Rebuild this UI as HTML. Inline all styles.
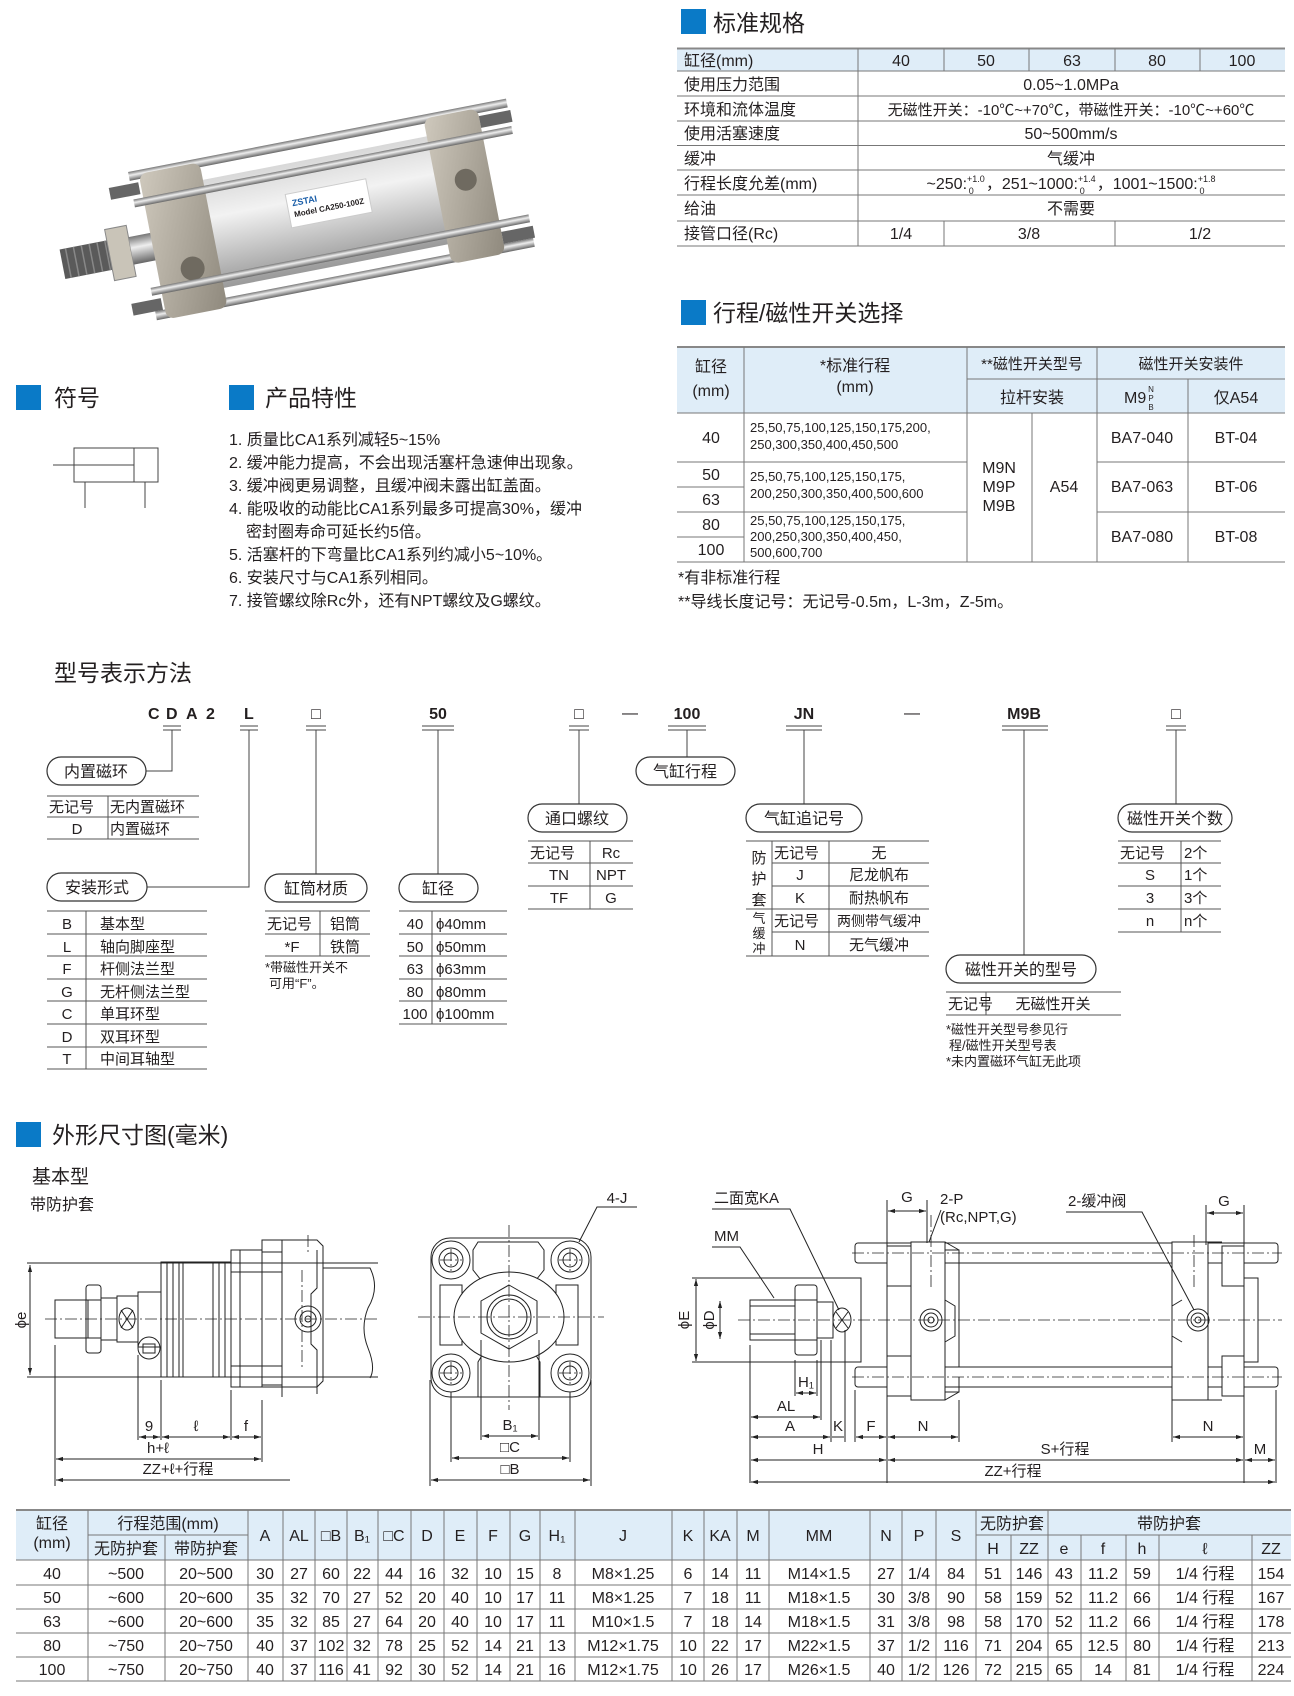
<!DOCTYPE html>
<html><head><meta charset="utf-8"><style>
html,body{margin:0;padding:0;background:#fff}
svg{display:block}
text{font-family:"Liberation Sans","Noto Sans CJK SC",sans-serif;fill:#231f20}
.t15{font-size:15px}.t16{font-size:16px}.t13{font-size:13px}.t12{font-size:12px}.t14{font-size:14px}
.h{font-size:23px}
.ln{stroke:#555;stroke-width:1;fill:none}
.tl{stroke:#777;stroke-width:1}
.d{stroke:#222;stroke-width:1;fill:none}
.c{stroke:#222;stroke-width:.8;stroke-dasharray:12 3 2 3;fill:none}
.pill{fill:#fff;stroke:#333;stroke-width:1.2}
.m{text-anchor:middle}
</style></head><body>
<svg width="1294" height="1696" viewBox="0 0 1294 1696" xmlns="http://www.w3.org/2000/svg">
<defs>
<marker id="a" viewBox="0 0 10 10" refX="10" refY="5" markerWidth="7" markerHeight="7" orient="auto-start-reverse"><path d="M0,2 L10,5 L0,8z" fill="#222"/></marker>
<linearGradient id="tube" x1="0" y1="0" x2="0" y2="1"><stop offset="0" stop-color="#d8d8d8"/><stop offset=".35" stop-color="#f2f2f2"/><stop offset="1" stop-color="#9a9a9a"/></linearGradient>
<linearGradient id="rod" x1="0" y1="0" x2="0" y2="1"><stop offset="0" stop-color="#777"/><stop offset=".4" stop-color="#eee"/><stop offset="1" stop-color="#666"/></linearGradient>
<linearGradient id="cap" x1="0" y1="0" x2="1" y2="1"><stop offset="0" stop-color="#cfc9bd"/><stop offset="1" stop-color="#8f897d"/></linearGradient>
</defs>

<!-- PHOTO -->
<g transform="translate(0 14) rotate(-11 290 205)">
<rect x="140" y="128" width="385" height="9" fill="url(#rod)"/>
<rect x="140" y="270" width="385" height="9" fill="url(#rod)"/>
<rect x="58" y="191" width="60" height="30" fill="#5a5a5a"/>
<g stroke="#888" stroke-width="1.5"><line x1="64" y1="191" x2="64" y2="221"/><line x1="72" y1="191" x2="72" y2="221"/><line x1="80" y1="191" x2="80" y2="221"/><line x1="88" y1="191" x2="88" y2="221"/><line x1="96" y1="191" x2="96" y2="221"/><line x1="104" y1="191" x2="104" y2="221"/></g>
<rect x="106" y="180" width="22" height="52" fill="#c9c4b8" stroke="#888"/>
<rect x="128" y="192" width="28" height="28" fill="url(#rod)"/>
<rect x="210" y="150" width="235" height="110" fill="url(#tube)"/>
<rect x="150" y="132" width="62" height="148" rx="8" fill="url(#cap)"/>
<rect x="440" y="132" width="55" height="148" rx="8" fill="url(#cap)"/>
<circle cx="185" cy="235" r="12" fill="#6f6a60"/><circle cx="470" cy="200" r="11" fill="#6f6a60"/>
<rect x="140" y="156" width="385" height="8" fill="url(#rod)"/>
<rect x="140" y="246" width="385" height="8" fill="url(#rod)"/>
<rect x="118" y="140" width="30" height="12" fill="#666"/><rect x="118" y="258" width="30" height="12" fill="#666"/>
<rect x="495" y="140" width="32" height="12" fill="#666"/><rect x="495" y="258" width="32" height="12" fill="#666"/>
<rect x="290" y="180" width="82" height="34" fill="#fff" stroke="#ccc"/>
<text x="295" y="193" style="font-size:9px;font-weight:bold;fill:#1a5ea8">ZSTAI</text>
<text x="295" y="204" style="font-size:8px;font-weight:bold">Model CA250-100Z</text>
</g>

<!-- SECTION 1 -->
<rect x="681" y="9" width="25" height="25" fill="#0a7ac7"/>
<text x="713" y="31" class="h">标准规格</text>
<rect x="677" y="48.5" width="608" height="22.5" fill="#dfedf8"/>
<line x1="677" y1="48.5" x2="1285" y2="48.5" stroke="#888" stroke-width="2"/>
<g class="tl"><line x1="677" y1="71" x2="1285" y2="71"/><line x1="677" y1="96" x2="1285" y2="96"/><line x1="677" y1="121" x2="1285" y2="121"/><line x1="677" y1="145.5" x2="1285" y2="145.5"/><line x1="677" y1="170" x2="1285" y2="170"/><line x1="677" y1="195" x2="1285" y2="195"/><line x1="677" y1="221" x2="1285" y2="221"/><line x1="677" y1="246" x2="1285" y2="246"/>
<line x1="858" y1="48.5" x2="858" y2="246"/><line x1="944" y1="48.5" x2="944" y2="71"/><line x1="1029" y1="48.5" x2="1029" y2="71"/><line x1="1115" y1="48.5" x2="1115" y2="71"/><line x1="1200" y1="48.5" x2="1200" y2="71"/><line x1="944" y1="221" x2="944" y2="246"/><line x1="1115" y1="221" x2="1115" y2="246"/></g>
<g class="t16">
<text x="684" y="66">缸径(mm)</text><text x="684" y="90">使用压力范围</text><text x="684" y="115">环境和流体温度</text><text x="684" y="139">使用活塞速度</text><text x="684" y="164">缓冲</text><text x="684" y="189">行程长度允差(mm)</text><text x="684" y="214">给油</text><text x="684" y="239">接管口径(Rc)</text>
<text x="901" y="66" class="m">40</text><text x="986" y="66" class="m">50</text><text x="1072" y="66" class="m">63</text><text x="1157" y="66" class="m">80</text><text x="1242" y="66" class="m">100</text>
<text x="1071" y="90" class="m">0.05~1.0MPa</text>
<text x="1071" y="115" class="m" style="font-size:15px">无磁性开关：-10℃~+70℃，带磁性开关：-10℃~+60℃</text>
<text x="1071" y="139" class="m">50~500mm/s</text>
<text x="1071" y="164" class="m">气缓冲</text>
<text x="1071" y="189" class="m">~250:<tspan style="font-size:9px" dy="-7">+1.0</tspan><tspan style="font-size:9px" dx="-16" dy="12">0</tspan><tspan dy="-5" dx="12">，251~1000:</tspan><tspan style="font-size:9px" dy="-7">+1.4</tspan><tspan style="font-size:9px" dx="-16" dy="12">0</tspan><tspan dy="-5" dx="12">，1001~1500:</tspan><tspan style="font-size:9px" dy="-7">+1.8</tspan><tspan style="font-size:9px" dx="-16" dy="12">0</tspan></text>
<text x="1071" y="214" class="m">不需要</text>
<text x="901" y="239" class="m">1/4</text><text x="1029" y="239" class="m">3/8</text><text x="1200" y="239" class="m">1/2</text>
</g>

<!-- SECTION 2 -->
<rect x="681" y="300" width="25" height="25" fill="#0a7ac7"/>
<text x="713" y="321" class="h">行程/磁性开关选择</text>
<rect x="677" y="347" width="608" height="66" fill="#dfedf8"/>
<line x1="677" y1="347" x2="1285" y2="347" stroke="#888" stroke-width="2"/>
<g class="tl">
<line x1="677" y1="413" x2="1285" y2="413"/><line x1="967" y1="379" x2="1285" y2="379"/>
<line x1="744" y1="347" x2="744" y2="562"/><line x1="967" y1="347" x2="967" y2="562"/><line x1="1032" y1="413" x2="1032" y2="562"/><line x1="1097" y1="347" x2="1097" y2="562"/><line x1="1188" y1="379" x2="1188" y2="562"/>
<line x1="677" y1="462" x2="967" y2="462"/><line x1="677" y1="512" x2="967" y2="512"/><line x1="677" y1="487" x2="744" y2="487"/><line x1="677" y1="537" x2="744" y2="537"/>
<line x1="1097" y1="462" x2="1285" y2="462"/><line x1="1097" y1="512" x2="1285" y2="512"/>
<line x1="677" y1="562" x2="1285" y2="562"/></g>
<g class="t16">
<text x="711" y="372" class="m">缸径</text><text x="711" y="396" class="m">(mm)</text>
<text x="855" y="371" class="m">*标准行程</text><text x="855" y="392" class="m">(mm)</text>
<text x="1032" y="369" class="m" style="font-size:15px">**磁性开关型号</text>
<text x="1191" y="369" class="m" style="font-size:15px">磁性开关安装件</text>
<text x="1032" y="403" class="m">拉杆安装</text>
<text x="1124" y="403">M9</text>
<text x="1236" y="403" class="m">仅A54</text>
<text x="711" y="443" class="m">40</text><text x="711" y="480" class="m">50</text><text x="711" y="505" class="m">63</text><text x="711" y="530" class="m">80</text><text x="711" y="555" class="m">100</text>
<text x="999" y="473" class="m">M9N</text><text x="999" y="492" class="m">M9P</text><text x="999" y="511" class="m">M9B</text>
<text x="1064" y="492" class="m">A54</text>
<text x="1142" y="443" class="m">BA7-040</text><text x="1236" y="443" class="m">BT-04</text>
<text x="1142" y="492" class="m">BA7-063</text><text x="1236" y="492" class="m">BT-06</text>
<text x="1142" y="542" class="m">BA7-080</text><text x="1236" y="542" class="m">BT-08</text>
</g>
<g style="font-size:8px"><text x="1151" y="392" class="m">N</text><text x="1151" y="401" class="m">P</text><text x="1151" y="410" class="m">B</text></g>
<g class="t13">
<text x="750" y="432">25,50,75,100,125,150,175,200,</text><text x="750" y="449">250,300,350,400,450,500</text>
<text x="750" y="481">25,50,75,100,125,150,175,</text><text x="750" y="498">200,250,300,350,400,500,600</text>
<text x="750" y="525">25,50,75,100,125,150,175,</text><text x="750" y="541">200,250,300,350,400,450,</text><text x="750" y="557">500,600,700</text>
</g>
<text x="678" y="583" class="t16">*有非标准行程</text>
<text x="678" y="607" class="t16">**导线长度记号：无记号-0.5m，L-3m，Z-5m。</text>

<!-- SYMBOL / FEATURES -->
<rect x="16" y="385" width="25" height="25" fill="#0a7ac7"/>
<text x="54" y="406" class="h">符号</text>
<rect x="229" y="385" width="25" height="25" fill="#0a7ac7"/>
<text x="265" y="406" class="h">产品特性</text>
<g class="ln" style="stroke:#444">
<rect x="74" y="448" width="84" height="34"/><line x1="134" y1="448" x2="134" y2="482"/><line x1="53" y1="465" x2="134" y2="465"/><line x1="85" y1="482" x2="85" y2="508"/><line x1="145" y1="482" x2="145" y2="508"/></g>
<g class="t16">
<text x="229" y="445">1. 质量比CA1系列减轻5~15%</text>
<text x="229" y="468">2. 缓冲能力提高，不会出现活塞杆急速伸出现象。</text>
<text x="229" y="491">3. 缓冲阀更易调整，且缓冲阀未露出缸盖面。</text>
<text x="229" y="514">4. 能吸收的动能比CA1系列最多可提高30%，缓冲</text>
<text x="246" y="537">密封圈寿命可延长约5倍。</text>
<text x="229" y="560">5. 活塞杆的下弯量比CA1系列约减小5~10%。</text>
<text x="229" y="583">6. 安装尺寸与CA1系列相同。</text>
<text x="229" y="606">7. 接管螺纹除Rc外，还有NPT螺纹及G螺纹。</text>
</g>

<!-- MODEL -->
<text x="54" y="681" class="h">型号表示方法</text>
<g style="font-size:16px;font-weight:bold">
<text x="148" y="719">C</text><text x="166" y="719">D</text><text x="186" y="719">A</text><text x="206" y="719">2</text>
<text x="244" y="719">L</text><text x="438" y="719" class="m">50</text><text x="687" y="719" class="m">100</text><text x="804" y="719" class="m">JN</text><text x="1024" y="719" class="m">M9B</text>
</g>
<g class="t16"><text x="316" y="719" class="m">□</text><text x="579" y="719" class="m">□</text><text x="1176" y="719" class="m">□</text><text x="630" y="718" class="m">—</text><text x="912" y="718" class="m">—</text></g>
<g class="ln" style="stroke:#444">
<path d="M163 726h18M163 730h18M240 726h18M240 730h18M306 726h20M306 730h20M422 726h32M422 730h32M569 726h20M569 730h20M668 726h38M668 730h38M786 726h36M786 730h36M1002 726h46M1002 730h46M1166 726h20M1166 730h20"/>
<path d="M172 730V771H146M249 730V887H147M316 730V874M438 730V874M579 730V804M687 730V757M804 730V804M1024 730V955M1176 730V804"/>
</g>
<g class="t16">
<rect class="pill" x="47" y="757" width="99" height="28" rx="14"/><text x="96" y="777" class="m">内置磁环</text>
<rect class="pill" x="47" y="873" width="100" height="28" rx="14"/><text x="97" y="893" class="m">安装形式</text>
<rect class="pill" x="265" y="874" width="102" height="28" rx="14"/><text x="316" y="894" class="m">缸筒材质</text>
<rect class="pill" x="399" y="874" width="79" height="28" rx="14"/><text x="438" y="894" class="m">缸径</text>
<rect class="pill" x="528" y="804" width="99" height="28" rx="14"/><text x="577" y="824" class="m">通口螺纹</text>
<rect class="pill" x="636" y="757" width="99" height="28" rx="14"/><text x="685" y="777" class="m">气缸行程</text>
<rect class="pill" x="746" y="804" width="116" height="28" rx="14"/><text x="804" y="824" class="m">气缸追记号</text>
<rect class="pill" x="946" y="955" width="150" height="28" rx="14"/><text x="1021" y="975" class="m">磁性开关的型号</text>
<rect class="pill" x="1118" y="804" width="114" height="28" rx="14"/><text x="1175" y="824" class="m">磁性开关个数</text>
</g>
<g class="tl" style="stroke:#555">
<path d="M47 796H199M47 817H199M47 839H199M108 796V839"/>
<path d="M47 911H207M47 934H207M47 956H207M47 979H207M47 1001H207M47 1024H207M47 1047H207M47 1069H207M86 911V1069"/>
<path d="M265 911H370M265 934H370M265 956H370M320 911V956"/>
<path d="M399 911H507M399 934H507M399 956H507M399 979H507M399 1001H507M399 1024H507M432 911V1024"/>
<path d="M528 841H633M528 863H633M528 886H633M528 909H633M590 841V909"/>
<path d="M746 841H929M772 863H929M772 886H929M746 909H929M772 932H929M746 956H929M772 841V956M829 841V956"/>
<path d="M946 992H1121M946 1015H1121M986 992V1015"/>
<path d="M1118 841H1221M1118 863H1221M1118 886H1221M1118 909H1221M1118 932H1221M1181 841V932"/>
</g>
<g class="t15">
<text x="49" y="812">无记号</text><text x="110" y="812">无内置磁环</text><text x="77" y="834" class="m">D</text><text x="110" y="834">内置磁环</text>
<text x="67" y="929" class="m">B</text><text x="100" y="929">基本型</text>
<text x="67" y="952" class="m">L</text><text x="100" y="952">轴向脚座型</text>
<text x="67" y="974" class="m">F</text><text x="100" y="974">杆侧法兰型</text>
<text x="67" y="997" class="m">G</text><text x="100" y="997">无杆侧法兰型</text>
<text x="67" y="1019" class="m">C</text><text x="100" y="1019">单耳环型</text>
<text x="67" y="1042" class="m">D</text><text x="100" y="1042">双耳环型</text>
<text x="67" y="1064" class="m">T</text><text x="100" y="1064">中间耳轴型</text>
<text x="267" y="929">无记号</text><text x="345" y="929" class="m">铝筒</text><text x="292" y="952" class="m">*F</text><text x="345" y="952" class="m">铁筒</text>
<text x="415" y="929" class="m">40</text><text x="436" y="929">ϕ40mm</text>
<text x="415" y="952" class="m">50</text><text x="436" y="952">ϕ50mm</text>
<text x="415" y="974" class="m">63</text><text x="436" y="974">ϕ63mm</text>
<text x="415" y="997" class="m">80</text><text x="436" y="997">ϕ80mm</text>
<text x="415" y="1019" class="m">100</text><text x="436" y="1019">ϕ100mm</text>
<text x="530" y="858">无记号</text><text x="611" y="858" class="m">Rc</text>
<text x="559" y="880" class="m">TN</text><text x="611" y="880" class="m">NPT</text>
<text x="559" y="903" class="m">TF</text><text x="611" y="903" class="m">G</text>
<text x="774" y="858">无记号</text><text x="879" y="858" class="m">无</text>
<text x="800" y="880" class="m">J</text><text x="879" y="880" class="m">尼龙帆布</text>
<text x="800" y="903" class="m">K</text><text x="879" y="903" class="m">耐热帆布</text>
<text x="774" y="926">无记号</text><text x="879" y="926" class="m" style="font-size:14px">两侧带气缓冲</text>
<text x="800" y="950" class="m">N</text><text x="879" y="950" class="m">无气缓冲</text>
<text x="759" y="863" class="m">防</text><text x="759" y="884" class="m">护</text><text x="759" y="905" class="m">套</text>
<text x="948" y="1009">无记号</text><text x="1053" y="1009" class="m">无磁性开关</text>
<text x="1120" y="858">无记号</text><text x="1184" y="858">2个</text>
<text x="1150" y="880" class="m">S</text><text x="1184" y="880">1个</text>
<text x="1150" y="903" class="m">3</text><text x="1184" y="903">3个</text>
<text x="1150" y="926" class="m">n</text><text x="1184" y="926">n个</text>
</g>
<g class="t13"><text x="759" y="923" class="m">气</text><text x="759" y="938" class="m">缓</text><text x="759" y="953" class="m">冲</text>
<text x="265" y="972">*带磁性开关不</text><text x="269" y="988">可用“F”。</text>
<text x="946" y="1034">*磁性开关型号参见行</text><text x="949" y="1050">程/磁性开关型号表</text><text x="946" y="1066">*未内置磁环气缸无此项</text></g>

<!-- DIMENSIONS -->
<rect x="16" y="1122" width="25" height="25" fill="#0a7ac7"/>
<text x="52" y="1143" class="h">外形尺寸图(毫米)</text>
<text x="32" y="1183" style="font-size:19px">基本型</text>
<text x="30" y="1210" class="t16">带防护套</text>

<!-- left drawing -->
<g class="d">
<path d="M27 1263H378M27 1377H378"/>
<rect x="55" y="1300" width="33" height="38"/>
<rect x="86" y="1285" width="15" height="68" rx="3"/>
<path d="M86 1300h15M86 1338h15"/>
<rect x="101" y="1298" width="16" height="42"/>
<rect x="117" y="1296" width="21" height="46"/><path d="M121 1310l12 18M133 1310l-12 18"/><ellipse cx="127" cy="1319" rx="8" ry="11"/>
<rect x="138" y="1292" width="23" height="55"/>
<rect x="161" y="1262" width="70" height="115"/>
<path d="M167 1262v115M173 1262v115M179 1262v115M183 1262v115M213 1262v115M219 1262v115M225 1262v115"/>
<rect x="231" y="1250" width="31" height="137"/>
<path d="M240 1250v137M231 1272h31M231 1366h31"/>
<path d="M262 1240h55l6 6v135l-6 6h-55z"/>
<path d="M262 1252h20v-12M262 1385h20v12M282 1240v157M262 1272h20M262 1366h20"/>
<path d="M317 1250v38l-6 6v50l6 6v44"/>
<path d="M323 1268H370q10 20 -2 40q-8 20 0 40q8 20 2 30M323 1377H378"/>
<circle cx="308" cy="1319" r="13"/><circle cx="308" cy="1319" r="8"/><circle cx="308" cy="1319" r="3"/>
<circle cx="149" cy="1348" r="11"/><path d="M143 1344h12v9h-12z"/>
</g>
<path class="c" d="M45 1319H380M302 1270v100M308 1235v20"/>
<line class="d" x1="30" y1="1265" x2="30" y2="1375" marker-start="url(#a)" marker-end="url(#a)"/>
<text transform="translate(26 1320) rotate(-90)" class="t15 m">ϕe</text>
<g class="d"><path d="M55 1345V1486M138 1355V1440M161 1380V1440M231 1390V1440M262 1400V1462"/></g>
<g class="d">
<line x1="139" y1="1437" x2="160" y2="1437" marker-start="url(#a)" marker-end="url(#a)"/>
<line x1="162" y1="1437" x2="230" y2="1437" marker-start="url(#a)" marker-end="url(#a)"/>
<line x1="232" y1="1437" x2="261" y2="1437" marker-start="url(#a)" marker-end="url(#a)"/>
<line x1="56" y1="1459" x2="261" y2="1459" marker-start="url(#a)" marker-end="url(#a)"/>
<line x1="56" y1="1480" x2="290" y2="1480" marker-start="url(#a)"/>
</g>
<g class="t15"><text x="149" y="1431" class="m">9</text><text x="196" y="1431" class="m">ℓ</text><text x="246" y="1431" class="m">f</text><text x="158" y="1453" class="m">h+ℓ</text><text x="178" y="1474" class="m">ZZ+ℓ+行程</text></g>

<!-- end view -->
<g class="d">
<path d="M450 1238h122a19 19 0 0 1 19 19v121a19 19 0 0 1 -19 19h-122a19 19 0 0 1 -19 -19v-121a19 19 0 0 1 19 -19z"/>
<path d="M478 1242h60l6 8v20l-8 10h-55l-8-10v-20z"/>
<path d="M478 1397v-35l6-10h50l6 10v35"/>
<path d="M440 1285h22v60h-22zM556 1285h22v60h-22z"/>
<circle cx="451" cy="1260" r="19"/><circle cx="451" cy="1260" r="12"/><circle cx="451" cy="1260" r="7"/>
<circle cx="570" cy="1260" r="19"/><circle cx="570" cy="1260" r="12"/><circle cx="570" cy="1260" r="7"/>
<circle cx="451" cy="1373" r="19"/><circle cx="451" cy="1373" r="12"/><circle cx="451" cy="1373" r="7"/>
<circle cx="570" cy="1373" r="19"/><circle cx="570" cy="1373" r="12"/><circle cx="570" cy="1373" r="7"/>
<ellipse cx="509" cy="1317" rx="55" ry="45" fill="#fff"/>
<path d="M509 1285l28 16v32l-28 16l-28-16v-32z"/>
<circle cx="509" cy="1317" r="22"/><circle cx="509" cy="1317" r="18"/>
</g>
<path class="c" d="M418 1317H604M509 1225V1410M440 1260h22M570 1249v22M440 1373h22M570 1362v22M451 1249v22M559 1260h22M451 1362v22M559 1373h22"/>
<g class="d"><path d="M430 1380V1486M591 1380V1486M451 1392V1462M570 1392V1462M481 1340V1440M539 1340V1440M579 1242L597 1207H637"/>
<line x1="482" y1="1436" x2="538" y2="1436" marker-start="url(#a)" marker-end="url(#a)"/>
<line x1="452" y1="1458" x2="569" y2="1458" marker-start="url(#a)" marker-end="url(#a)"/>
<line x1="431" y1="1480" x2="590" y2="1480" marker-start="url(#a)" marker-end="url(#a)"/></g>
<g class="t15"><text x="510" y="1430" class="m">B₁</text><text x="510" y="1452" class="m">□C</text><text x="510" y="1474" class="m">□B</text><text x="617" y="1203" class="m">4-J</text></g>

<!-- right drawing -->
<g class="d">
<path d="M692 1278H861M692 1362H861"/>
<path d="M835 1278h26v84h-26"/>
<rect x="750" y="1300" width="45" height="40"/><path d="M750 1306h45M750 1334h45"/>
<rect x="795" y="1285" width="22" height="70" rx="3"/><path d="M795 1300h22M795 1340h22"/>
<rect x="817" y="1302" width="16" height="36"/><ellipse cx="842" cy="1320" rx="9" ry="12"/><path d="M836 1312l12 16M848 1312l-12 16"/>
<rect x="855" y="1243" width="423" height="20" rx="3"/>
<rect x="855" y="1367" width="423" height="20" rx="3"/>
<rect x="959" y="1263" width="213" height="104" fill="#fff"/>
<path d="M911 1242h34v158h-34z" fill="#fff"/>
<path d="M945 1250h14v15M945 1392h14v-15M945 1242l14 8M945 1400l14-8"/>
<path d="M945 1300l10 6v30l-10 6"/>
<rect x="887" y="1246" width="24" height="40" fill="#fff"/><rect x="887" y="1356" width="24" height="40" fill="#fff"/>
<path d="M1172 1242h36v158h-36z" fill="#fff"/>
<path d="M1182 1300l-10 6v30l10 6"/>
<rect x="1222" y="1246" width="22" height="40" fill="#fff"/><rect x="1222" y="1356" width="22" height="40" fill="#fff"/>
<path d="M1208 1242h14M1208 1400h14"/>
<rect x="1244" y="1278" width="14" height="84"/>
<circle cx="931" cy="1320" r="11"/><circle cx="931" cy="1320" r="7"/><circle cx="931" cy="1320" r="3"/>
<circle cx="1198" cy="1320" r="11"/><circle cx="1198" cy="1320" r="7"/><circle cx="1198" cy="1320" r="3"/>
</g>
<path class="c" d="M738 1320H1282M852 1253H1282M852 1377H1282M931 1215V1290M1194 1235V1290"/>
<g class="d">
<line x1="696" y1="1279" x2="696" y2="1361" marker-start="url(#a)" marker-end="url(#a)"/>
<line x1="720" y1="1301" x2="720" y2="1339" marker-start="url(#a)" marker-end="url(#a)"/>
<path d="M712 1209H790L839 1310M712 1247H740L774 1298M941 1210L929 1242M1066 1212H1142L1194 1310"/>
<path d="M887 1200V1483M927 1200V1243M1206 1205V1245M1244 1205V1483M1276 1390V1483M750 1345V1483M959 1400V1442M1172 1400V1442M795 1360V1396M817 1360V1396M821 1340V1420M831 1340V1442M845 1330V1442M855 1390V1442"/>
<line x1="888" y1="1211" x2="926" y2="1211" marker-start="url(#a)" marker-end="url(#a)"/>
<line x1="1207" y1="1213" x2="1243" y2="1213" marker-start="url(#a)" marker-end="url(#a)"/>
<line x1="796" y1="1393" x2="816" y2="1393" marker-start="url(#a)" marker-end="url(#a)"/>
<line x1="751" y1="1417" x2="820" y2="1417" marker-start="url(#a)" marker-end="url(#a)"/>
<line x1="751" y1="1437" x2="830" y2="1437" marker-start="url(#a)" marker-end="url(#a)"/>
<line x1="832" y1="1437" x2="844" y2="1437"/>
<line x1="856" y1="1437" x2="886" y2="1437" marker-start="url(#a)" marker-end="url(#a)"/>
<line x1="888" y1="1437" x2="958" y2="1437" marker-start="url(#a)" marker-end="url(#a)"/>
<line x1="1173" y1="1437" x2="1243" y2="1437" marker-start="url(#a)" marker-end="url(#a)"/>
<line x1="751" y1="1460" x2="886" y2="1460" marker-start="url(#a)" marker-end="url(#a)"/>
<line x1="888" y1="1460" x2="1243" y2="1460" marker-start="url(#a)" marker-end="url(#a)"/>
<line x1="1245" y1="1460" x2="1275" y2="1460" marker-start="url(#a)" marker-end="url(#a)"/>
<line x1="751" y1="1482" x2="1275" y2="1482" marker-start="url(#a)" marker-end="url(#a)"/>
</g>
<text transform="translate(689 1320) rotate(-90)" class="t15 m">ϕE</text>
<text transform="translate(714 1320) rotate(-90)" class="t15 m">ϕD</text>
<g class="t15">
<text x="714" y="1203">二面宽KA</text><text x="714" y="1241">MM</text>
<text x="907" y="1202" class="m">G</text><text x="940" y="1204">2-P</text><text x="940" y="1222">(Rc,NPT,G)</text>
<text x="1068" y="1206">2-缓冲阀</text><text x="1224" y="1206" class="m">G</text>
<text x="806" y="1387" class="m">H₁</text><text x="786" y="1411" class="m">AL</text><text x="790" y="1431" class="m">A</text><text x="838" y="1431" class="m">K</text><text x="871" y="1431" class="m">F</text><text x="923" y="1431" class="m">N</text><text x="1208" y="1431" class="m">N</text>
<text x="818" y="1454" class="m">H</text><text x="1065" y="1454" class="m">S+行程</text><text x="1260" y="1454" class="m">M</text><text x="1013" y="1476" class="m">ZZ+行程</text>
</g>

<!-- BOTTOM TABLE -->
<rect x="16" y="1510" width="1275" height="50" fill="#dfedf8"/>
<line x1="16" y1="1510" x2="1291" y2="1510" stroke="#888" stroke-width="2"/>
<g class="tl">
<path d="M16 1560H1291M16 1585H1291M16 1609H1291M16 1633H1291M16 1657H1291M16 1681H1291M88 1535H248M976 1535H1291"/>
<path d="M88 1510V1681M165 1535V1681M248 1510V1681M283 1510V1681M315 1510V1681M347 1510V1681M378 1510V1681M411 1510V1681M444 1510V1681M477 1510V1681M510 1510V1681M540 1510V1681M575 1510V1681M672 1510V1681M704 1510V1681M737 1510V1681M769 1510V1681M870 1510V1681M902 1510V1681M936 1510V1681M976 1510V1681M1011 1535V1681M1048 1510V1681M1081 1535V1681M1126 1535V1681M1159 1535V1681M1252 1535V1681"/>
</g>
<g class="t16">
<text x="52" y="1529" class="m">缸径</text><text x="52" y="1548" class="m">(mm)</text>
<text x="168" y="1529" class="m">行程范围(mm)</text><text x="126" y="1554" class="m">无防护套</text><text x="206" y="1554" class="m">带防护套</text>
<text x="265" y="1541" class="m">A</text><text x="299" y="1541" class="m">AL</text><text x="331" y="1541" class="m">□B</text><text x="362" y="1541" class="m">B₁</text><text x="394" y="1541" class="m">□C</text><text x="427" y="1541" class="m">D</text><text x="460" y="1541" class="m">E</text><text x="493" y="1541" class="m">F</text><text x="525" y="1541" class="m">G</text><text x="557" y="1541" class="m">H₁</text><text x="623" y="1541" class="m">J</text><text x="688" y="1541" class="m">K</text><text x="720" y="1541" class="m">KA</text><text x="753" y="1541" class="m">M</text><text x="819" y="1541" class="m">MM</text><text x="886" y="1541" class="m">N</text><text x="919" y="1541" class="m">P</text><text x="956" y="1541" class="m">S</text>
<text x="1012" y="1529" class="m">无防护套</text><text x="1169" y="1529" class="m">带防护套</text>
<text x="993" y="1554" class="m">H</text><text x="1029" y="1554" class="m">ZZ</text><text x="1064" y="1554" class="m">e</text><text x="1103" y="1554" class="m">f</text><text x="1142" y="1554" class="m">h</text><text x="1205" y="1554" class="m">ℓ</text><text x="1271" y="1554" class="m">ZZ</text>
</g>
<g class="t16">
<g transform="translate(0 1579)">
<text x="52" class="m">40</text><text x="126" class="m">~500</text><text x="206" class="m">20~500</text><text x="265" class="m">30</text><text x="299" class="m">27</text><text x="331" class="m">60</text><text x="362" class="m">22</text><text x="394" class="m">44</text><text x="427" class="m">16</text><text x="460" class="m">32</text><text x="493" class="m">10</text><text x="525" class="m">15</text><text x="557" class="m">8</text><text x="623" class="m">M8×1.25</text><text x="688" class="m">6</text><text x="720" class="m">14</text><text x="753" class="m">11</text><text x="819" class="m">M14×1.5</text><text x="886" class="m">27</text><text x="919" class="m">1/4</text><text x="956" class="m">84</text><text x="993" class="m">51</text><text x="1029" class="m">146</text><text x="1064" class="m">43</text><text x="1103" class="m">11.2</text><text x="1142" class="m">59</text><text x="1205" class="m">1/4 行程</text><text x="1271" class="m">154</text></g>
<g transform="translate(0 1603)">
<text x="52" class="m">50</text><text x="126" class="m">~600</text><text x="206" class="m">20~600</text><text x="265" class="m">35</text><text x="299" class="m">32</text><text x="331" class="m">70</text><text x="362" class="m">27</text><text x="394" class="m">52</text><text x="427" class="m">20</text><text x="460" class="m">40</text><text x="493" class="m">10</text><text x="525" class="m">17</text><text x="557" class="m">11</text><text x="623" class="m">M8×1.25</text><text x="688" class="m">7</text><text x="720" class="m">18</text><text x="753" class="m">11</text><text x="819" class="m">M18×1.5</text><text x="886" class="m">30</text><text x="919" class="m">3/8</text><text x="956" class="m">90</text><text x="993" class="m">58</text><text x="1029" class="m">159</text><text x="1064" class="m">52</text><text x="1103" class="m">11.2</text><text x="1142" class="m">66</text><text x="1205" class="m">1/4 行程</text><text x="1271" class="m">167</text></g>
<g transform="translate(0 1627)">
<text x="52" class="m">63</text><text x="126" class="m">~600</text><text x="206" class="m">20~600</text><text x="265" class="m">35</text><text x="299" class="m">32</text><text x="331" class="m">85</text><text x="362" class="m">27</text><text x="394" class="m">64</text><text x="427" class="m">20</text><text x="460" class="m">40</text><text x="493" class="m">10</text><text x="525" class="m">17</text><text x="557" class="m">11</text><text x="623" class="m">M10×1.5</text><text x="688" class="m">7</text><text x="720" class="m">18</text><text x="753" class="m">14</text><text x="819" class="m">M18×1.5</text><text x="886" class="m">31</text><text x="919" class="m">3/8</text><text x="956" class="m">98</text><text x="993" class="m">58</text><text x="1029" class="m">170</text><text x="1064" class="m">52</text><text x="1103" class="m">11.2</text><text x="1142" class="m">66</text><text x="1205" class="m">1/4 行程</text><text x="1271" class="m">178</text></g>
<g transform="translate(0 1651)">
<text x="52" class="m">80</text><text x="126" class="m">~750</text><text x="206" class="m">20~750</text><text x="265" class="m">40</text><text x="299" class="m">37</text><text x="331" class="m">102</text><text x="362" class="m">32</text><text x="394" class="m">78</text><text x="427" class="m">25</text><text x="460" class="m">52</text><text x="493" class="m">14</text><text x="525" class="m">21</text><text x="557" class="m">13</text><text x="623" class="m">M12×1.75</text><text x="688" class="m">10</text><text x="720" class="m">22</text><text x="753" class="m">17</text><text x="819" class="m">M22×1.5</text><text x="886" class="m">37</text><text x="919" class="m">1/2</text><text x="956" class="m">116</text><text x="993" class="m">71</text><text x="1029" class="m">204</text><text x="1064" class="m">65</text><text x="1103" class="m">12.5</text><text x="1142" class="m">80</text><text x="1205" class="m">1/4 行程</text><text x="1271" class="m">213</text></g>
<g transform="translate(0 1675)">
<text x="52" class="m">100</text><text x="126" class="m">~750</text><text x="206" class="m">20~750</text><text x="265" class="m">40</text><text x="299" class="m">37</text><text x="331" class="m">116</text><text x="362" class="m">41</text><text x="394" class="m">92</text><text x="427" class="m">30</text><text x="460" class="m">52</text><text x="493" class="m">14</text><text x="525" class="m">21</text><text x="557" class="m">16</text><text x="623" class="m">M12×1.75</text><text x="688" class="m">10</text><text x="720" class="m">26</text><text x="753" class="m">17</text><text x="819" class="m">M26×1.5</text><text x="886" class="m">40</text><text x="919" class="m">1/2</text><text x="956" class="m">126</text><text x="993" class="m">72</text><text x="1029" class="m">215</text><text x="1064" class="m">65</text><text x="1103" class="m">14</text><text x="1142" class="m">81</text><text x="1205" class="m">1/4 行程</text><text x="1271" class="m">224</text></g>
</g>
</svg>
</body></html>
